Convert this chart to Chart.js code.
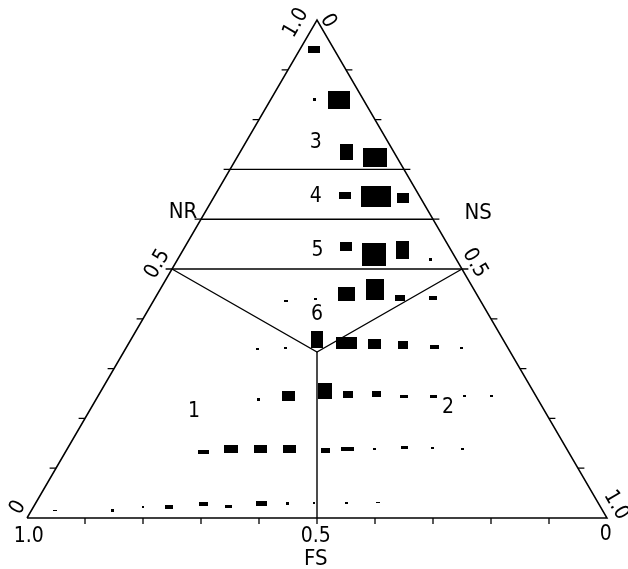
<!DOCTYPE html>
<html>
<head>
<meta charset="utf-8">
<script src="https://cdn.jsdelivr.net/npm/chart.js@4.4.1/dist/chart.umd.min.js"></script>
<style>
  html, body { margin: 0; padding: 0; background: #fff; }
</style>
</head>
<body>
<canvas id="myChart" width="628" height="569"></canvas>
<script>
// ternary data, NR = top corner, NS = right corner, FS = 1 - NR - NS
const nrVals = [
  0.94,
  0.84, 0.84,
  0.735, 0.723,
  0.647, 0.645, 0.643,
  0.545, 0.530, 0.538, 0.519,
  0.436, 0.439, 0.450, 0.458, 0.442, 0.442,
  0.339, 0.341, 0.359, 0.351, 0.349, 0.347, 0.343, 0.341,
  0.237, 0.245, 0.255, 0.247, 0.248, 0.243, 0.243, 0.244, 0.244,
  0.133, 0.138, 0.138, 0.138, 0.135, 0.139, 0.139, 0.141, 0.141, 0.139,
  0.015, 0.016, 0.022, 0.022, 0.029, 0.024, 0.029, 0.030, 0.030, 0.030, 0.032
];
const nsVals = [
  0.025,
  0.075, 0.118,
  0.183, 0.239,
  0.225, 0.279, 0.327,
  0.277, 0.334, 0.379, 0.436,
  0.229, 0.278, 0.325, 0.371, 0.422, 0.479,
  0.228, 0.276, 0.320, 0.376, 0.425, 0.474, 0.531, 0.578,
  0.280, 0.329, 0.387, 0.430, 0.479, 0.528, 0.580, 0.633, 0.678,
  0.237, 0.283, 0.334, 0.384, 0.447, 0.483, 0.529, 0.581, 0.629, 0.681,
  0.040, 0.139, 0.189, 0.234, 0.289, 0.336, 0.390, 0.434, 0.480, 0.535, 0.589
];
// frequency box width / height
const markW = [
  12,
  3, 22,
  13, 24,
  12, 30, 12,
  12, 24, 13, 3,
  4, 3, 17, 18, 10, 8,
  3, 3, 12, 21, 13, 10, 9, 3,
  3, 13, 14, 10, 9, 8, 7, 3, 3,
  11, 14, 13, 13, 9, 13, 3, 7, 3, 3,
  4, 3, 2, 8, 9, 7, 11, 3, 2, 3, 4
];
const markH = [
  7,
  3, 18,
  16, 19,
  7, 21, 10,
  9, 23, 18, 3,
  2, 2, 14, 21, 6, 4,
  2, 2, 17, 12, 10, 8, 4, 2,
  3, 10, 16, 7, 6, 3, 3, 2, 2,
  4, 8, 8, 8, 5, 4, 2, 3, 2, 2,
  1, 3, 2, 4, 4, 3, 5, 3, 2, 2, 1
];
const zoneBounds = [0.7, 0.6, 0.5];
const tickVals = [0.1, 0.2, 0.3, 0.4, 0.5, 0.6, 0.7, 0.8, 0.9];
const zoneNames = ['1', '2', '3', '4', '5', '6'];
const axisNames = ['NR', 'NS', 'FS'];

const tern = (ns, nr) => ({ x: ns + nr / 2, y: nr });

const imgCache = {};
function boxImg(w, h) {
  const key = w + 'x' + h;
  if (!imgCache[key]) {
    const c = document.createElement('canvas');
    c.width = w;
    c.height = h;
    const g = c.getContext('2d');
    g.fillStyle = '#000';
    g.fillRect(0, 0, w, h);
    imgCache[key] = c;
  }
  return imgCache[key];
}

function lineSet(points, width) {
  return {
    data: points,
    showLine: true,
    borderColor: '#000',
    borderWidth: width || 1.4,
    pointRadius: 0,
    fill: false,
    order: 2
  };
}

const datasets = [];

// boxes
datasets.push({
  data: nrVals.map((r, i) => tern(nsVals[i], r)),
  pointStyle: ctx => ctx.dataIndex === undefined ? 'rect' : boxImg(markW[ctx.dataIndex], markH[ctx.dataIndex]),
  pointRadius: 3,
  showLine: false,
  order: 0
});

// outline
datasets.push(lineSet([tern(0, 0), tern(1, 0), tern(0, 1), tern(0, 0)], 1.5));

// zone boundaries
zoneBounds.forEach(r => datasets.push(lineSet([tern(0, r), tern(1 - r, r)])));
datasets.push(lineSet([tern(0, 0.5), tern(1 / 3, 1 / 3), tern(0.5, 0.5)]));
datasets.push(lineSet([tern(1 / 3, 1 / 3), tern(0.5, 0)]));

// ticks
const tickPts = [];
tickVals.forEach(t => {
  const b = tern(1 - t, 0);
  tickPts.push(b, { x: b.x, y: b.y - 0.012 }, { x: null, y: null });
  const l = tern(0, t);
  tickPts.push(l, { x: l.x - 0.011, y: l.y }, { x: null, y: null });
  const r = tern(t, 1 - t);
  tickPts.push(r, { x: r.x + 0.011, y: r.y }, { x: null, y: null });
});
datasets.push(lineSet(tickPts, 1.3));

const labelFont = "'Liberation Sans Narrow', 'DejaVu Sans Condensed', 'Liberation Sans', sans-serif";

const textPlugin = {
  id: 'ternaryText',
  afterDraw(chart) {
    const { ctx, scales } = chart;
    const put = (txt, x, y, size, rot) => {
      ctx.save();
      ctx.translate(scales.x.getPixelForValue(x), scales.y.getPixelForValue(y));
      ctx.rotate((rot || 0) * Math.PI / 180);
      ctx.font = size + 'px ' + labelFont;
      ctx.fillStyle = '#000';
      ctx.textAlign = 'center';
      ctx.textBaseline = 'middle';
      ctx.fillText(txt, 0, 0);
      ctx.restore();
    };
    // axis names
    put(axisNames[0], 0.269, 0.614, 22);
    put(axisNames[1], 0.778, 0.612, 22);
    put(axisNames[2], 0.498, -0.083, 22);
    // base scale
    put('1.0', 0.003, -0.038, 21);
    put('0.5', 0.498, -0.038, 21);
    put('0', 0.998, -0.034, 21);
    // side scales
    put('1.0', 0.464, 0.994, 21, -60);
    put('0.5', 0.225, 0.510, 21, -60);
    put('0', -0.0155, 0.021, 21, -60);
    put('0', 0.519, 0.998, 21, 60);
    put('0.5', 0.772, 0.512, 21, 60);
    put('1.0', 1.0155, 0.026, 21, 60);
    // zone numbers
    put(zoneNames[0], 0.288, 0.214, 21);
    put(zoneNames[1], 0.726, 0.222, 21);
    put(zoneNames[2], 0.498, 0.754, 21);
    put(zoneNames[3], 0.498, 0.645, 21);
    put(zoneNames[4], 0.501, 0.538, 21);
    put(zoneNames[5], 0.500, 0.408, 21);
  }
};

const ctx = document.getElementById('myChart').getContext('2d');
const myChart = new Chart(ctx, {
  type: 'scatter',
  data: { datasets: datasets },
  options: {
    responsive: false,
    animation: false,
    events: [],
    layout: { padding: 0, autoPadding: false },
    plugins: {
      legend: { display: false },
      tooltip: { enabled: false }
    },
    scales: {
      x: { type: 'linear', display: false, min: -27 / 580, max: 601 / 580 },
      y: { type: 'linear', display: false, min: -51 / 498, max: 518 / 498 }
    }
  },
  plugins: [textPlugin]
});
</script>
</body>
</html>
